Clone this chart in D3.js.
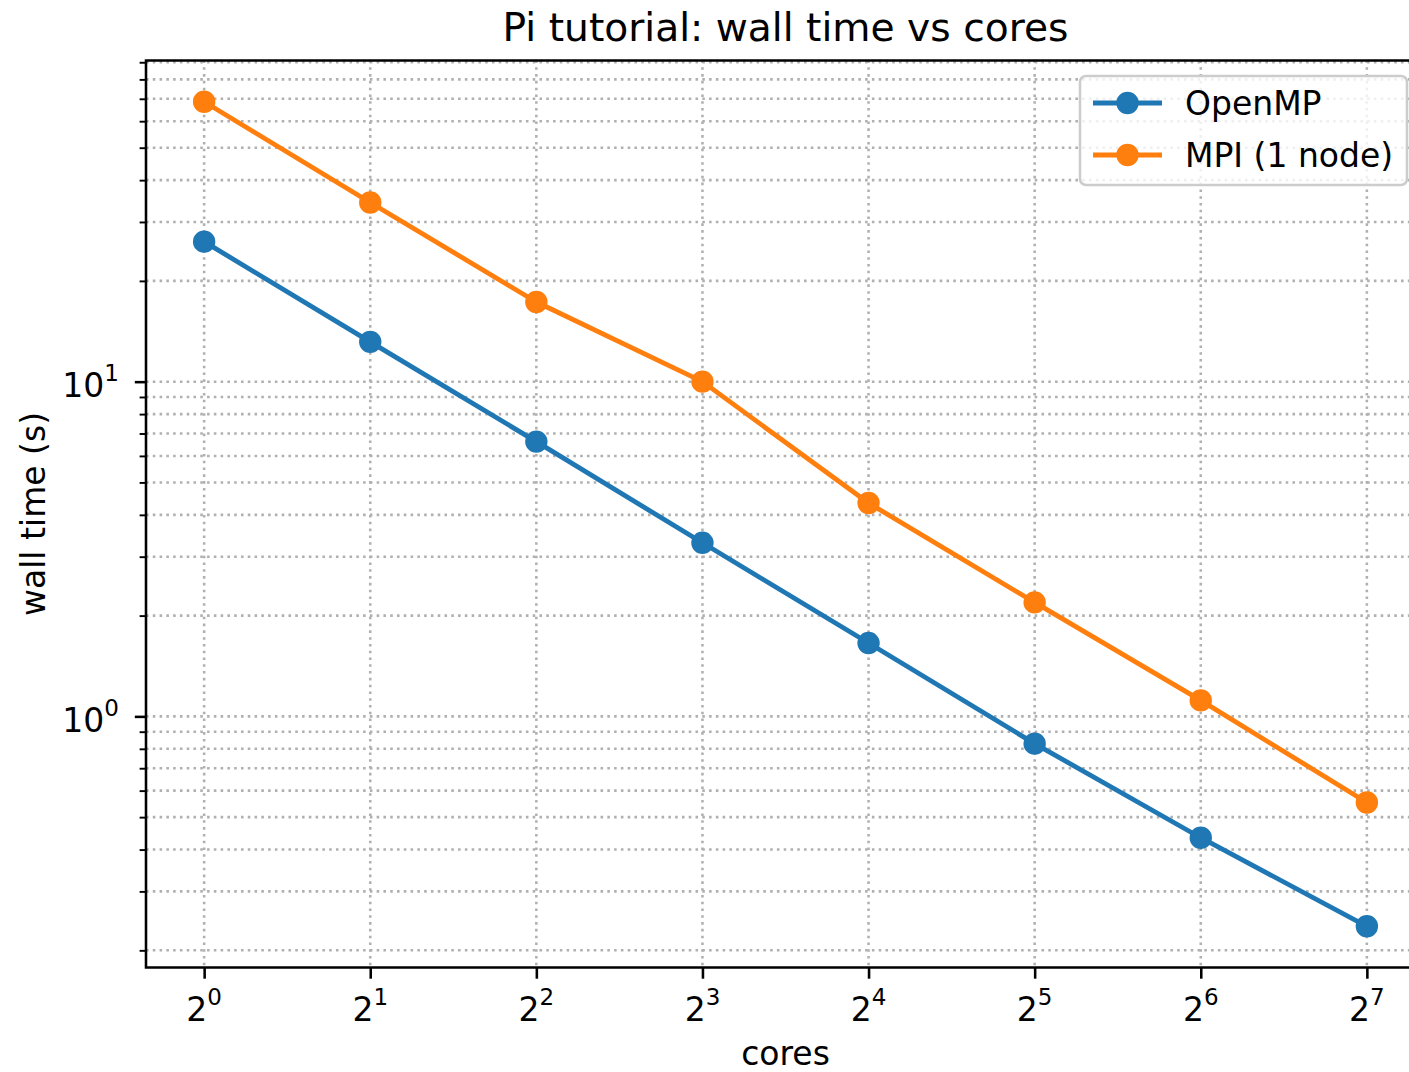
<!DOCTYPE html>
<html>
<head>
<meta charset="utf-8">
<script src="https://cdn.jsdelivr.net/npm/d3@7"></script>
<style>
  body { margin: 0; background: #fff; }
  text { font-family: "DejaVu Sans", sans-serif; fill: #000; }
</style>
</head>
<body>
<script>
// data
var cores = [1, 2, 4, 8, 16, 32, 64, 128];
var openmpTime = [26.2, 13.15, 6.62, 3.30, 1.656, 0.829, 0.434, 0.236];
var mpiTime = [68.6, 34.3, 17.3, 10.0, 4.34, 2.19, 1.116, 0.553];
var seriesNames = ["OpenMP", "MPI (1 node)"];
var seriesColors = ["#1f77b4", "#ff7f0e"];
var xTickExps = [0, 1, 2, 3, 4, 5, 6, 7];
var yTickExps = [0, 1];

var width = 1409, height = 1072;
// note: "top" is a reserved window property, so use plot* names
var plotLeft = 146, plotRight = 1425, plotTop = 60.5, plotBottom = 967.5;
var pt = 3.2; // px per point

var series = [
  {name: seriesNames[0], color: seriesColors[0], values: openmpTime},
  {name: seriesNames[1], color: seriesColors[1], values: mpiTime}
];

// log-space 5% margins, like matplotlib autoscale
function padLog(lo, hi, base) {
  var a = Math.log(lo) / Math.log(base), b = Math.log(hi) / Math.log(base);
  var m = (b - a) * 0.05;
  return [Math.pow(base, a - m), Math.pow(base, b + m)];
}
var allY = openmpTime.concat(mpiTime);

var x = d3.scaleLog().base(2)
    .domain(padLog(d3.min(cores), d3.max(cores), 2))
    .range([plotLeft, plotRight]);
var y = d3.scaleLog()
    .domain(padLog(d3.min(allY), d3.max(allY), 10))
    .range([plotBottom, plotTop]);

var svg = d3.select("body").append("svg")
    .attr("width", width)
    .attr("height", height);

// minor y ticks inside the domain
var yMinor = [];
[-1, 0, 1].forEach(function(e) {
  for (var k = 2; k <= 9; k++) {
    var v = k * Math.pow(10, e);
    if (v >= y.domain()[0] && v <= y.domain()[1]) yMinor.push(v);
  }
});
var yMajor = yTickExps.map(function(e) { return Math.pow(10, e); });
var xMajor = xTickExps.map(function(e) { return Math.pow(2, e); });

// grid
var grid = svg.append("g")
    .attr("stroke", "#b0b0b0")
    .attr("stroke-width", 0.8 * pt)
    .attr("stroke-dasharray", (0.8 * pt) + "," + (1.32 * pt));

grid.selectAll(".gy")
  .data(yMajor.concat(yMinor))
  .enter().append("line")
    .attr("x1", plotLeft).attr("x2", plotRight)
    .attr("y1", function(d) { return y(d); })
    .attr("y2", function(d) { return y(d); });

grid.selectAll(".gx")
  .data(xMajor)
  .enter().append("line")
    .attr("y1", plotTop).attr("y2", plotBottom)
    .attr("x1", function(d) { return x(d); })
    .attr("x2", function(d) { return x(d); });

// lines + markers
var line = d3.line()
    .x(function(d, i) { return x(cores[i]); })
    .y(function(d) { return y(d); });

series.forEach(function(s) {
  svg.append("path")
      .datum(s.values)
      .attr("fill", "none")
      .attr("stroke", s.color)
      .attr("stroke-width", 1.5 * pt)
      .attr("stroke-linejoin", "round")
      .attr("d", line);

  svg.selectAll(null)
    .data(s.values)
    .enter().append("circle")
      .attr("cx", function(d, i) { return x(cores[i]); })
      .attr("cy", function(d) { return y(d); })
      .attr("r", 3 * pt)
      .attr("fill", s.color)
      .attr("stroke", s.color)
      .attr("stroke-width", pt);
});

// axes (ticks only; labels drawn with superscripts below)
var xAxis = svg.append("g")
    .attr("transform", "translate(0," + plotBottom + ")")
    .call(d3.axisBottom(x).tickValues(xMajor).tickFormat("").tickSizeInner(3.5 * pt).tickSizeOuter(0));
xAxis.select(".domain").remove();
xAxis.selectAll("line").attr("stroke-width", 0.8 * pt);

var yAxis = svg.append("g")
    .attr("transform", "translate(" + plotLeft + ",0)")
    .call(d3.axisLeft(y).tickValues(yMajor).tickFormat("").tickSizeInner(3.5 * pt).tickSizeOuter(0));
yAxis.select(".domain").remove();
yAxis.selectAll("line").attr("stroke-width", 0.8 * pt);

var yAxisMinor = svg.append("g")
    .attr("transform", "translate(" + plotLeft + ",0)")
    .call(d3.axisLeft(y).tickValues(yMinor).tickFormat("").tickSizeInner(2 * pt).tickSizeOuter(0));
yAxisMinor.select(".domain").remove();
yAxisMinor.selectAll("line").attr("stroke-width", 0.6 * pt);

// spines (right one falls outside the picture)
svg.append("path")
    .attr("fill", "none")
    .attr("stroke", "#000")
    .attr("stroke-width", 0.8 * pt)
    .attr("stroke-linecap", "square")
    .attr("d", "M" + plotLeft + "," + plotTop + "V" + plotBottom + "H" + plotRight + "V" + plotTop + "Z");

// tick labels with superscripts
var fs = 33, sup = 23;
xTickExps.forEach(function(e) {
  var t = svg.append("text")
      .attr("x", x(Math.pow(2, e)))
      .attr("y", 1021)
      .attr("text-anchor", "middle")
      .attr("font-size", fs);
  t.append("tspan").text("2");
  t.append("tspan").attr("dy", -16).attr("font-size", sup).text(e);
});
yTickExps.forEach(function(e) {
  var t = svg.append("text")
      .attr("x", 119)
      .attr("y", y(Math.pow(10, e)) + 15.5)
      .attr("text-anchor", "end")
      .attr("font-size", fs);
  t.append("tspan").text("10");
  t.append("tspan").attr("dy", -16).attr("font-size", sup).text(e);
});

// titles
svg.append("text")
    .attr("x", (plotLeft + plotRight) / 2)
    .attr("y", 41)
    .attr("text-anchor", "middle")
    .attr("font-size", 39.2)
    .text("Pi tutorial: wall time vs cores");

svg.append("text")
    .attr("x", (plotLeft + plotRight) / 2)
    .attr("y", 1065)
    .attr("text-anchor", "middle")
    .attr("font-size", fs)
    .text("cores");

svg.append("text")
    .attr("transform", "translate(45," + ((plotTop + plotBottom) / 2) + ") rotate(-90)")
    .attr("text-anchor", "middle")
    .attr("font-size", fs)
    .text("wall time (s)");

// legend
var lg = svg.append("g");
lg.append("rect")
    .attr("x", 1080).attr("y", 76)
    .attr("width", 327).attr("height", 109)
    .attr("rx", 6).attr("ry", 6)
    .attr("fill", "#fff").attr("fill-opacity", 0.8)
    .attr("stroke", "#cccccc").attr("stroke-width", 0.8 * pt);

series.forEach(function(s, i) {
  var cy = 103 + i * 52;
  lg.append("line")
      .attr("x1", 1093).attr("x2", 1162)
      .attr("y1", cy).attr("y2", cy)
      .attr("stroke", s.color)
      .attr("stroke-width", 1.5 * pt);
  lg.append("circle")
      .attr("cx", 1127.5).attr("cy", cy)
      .attr("r", 3 * pt)
      .attr("fill", s.color)
      .attr("stroke", s.color)
      .attr("stroke-width", pt);
  lg.append("text")
      .attr("x", 1185)
      .attr("y", cy + 11.5)
      .attr("font-size", fs)
      .text(s.name);
});
</script>
</body>
</html>
